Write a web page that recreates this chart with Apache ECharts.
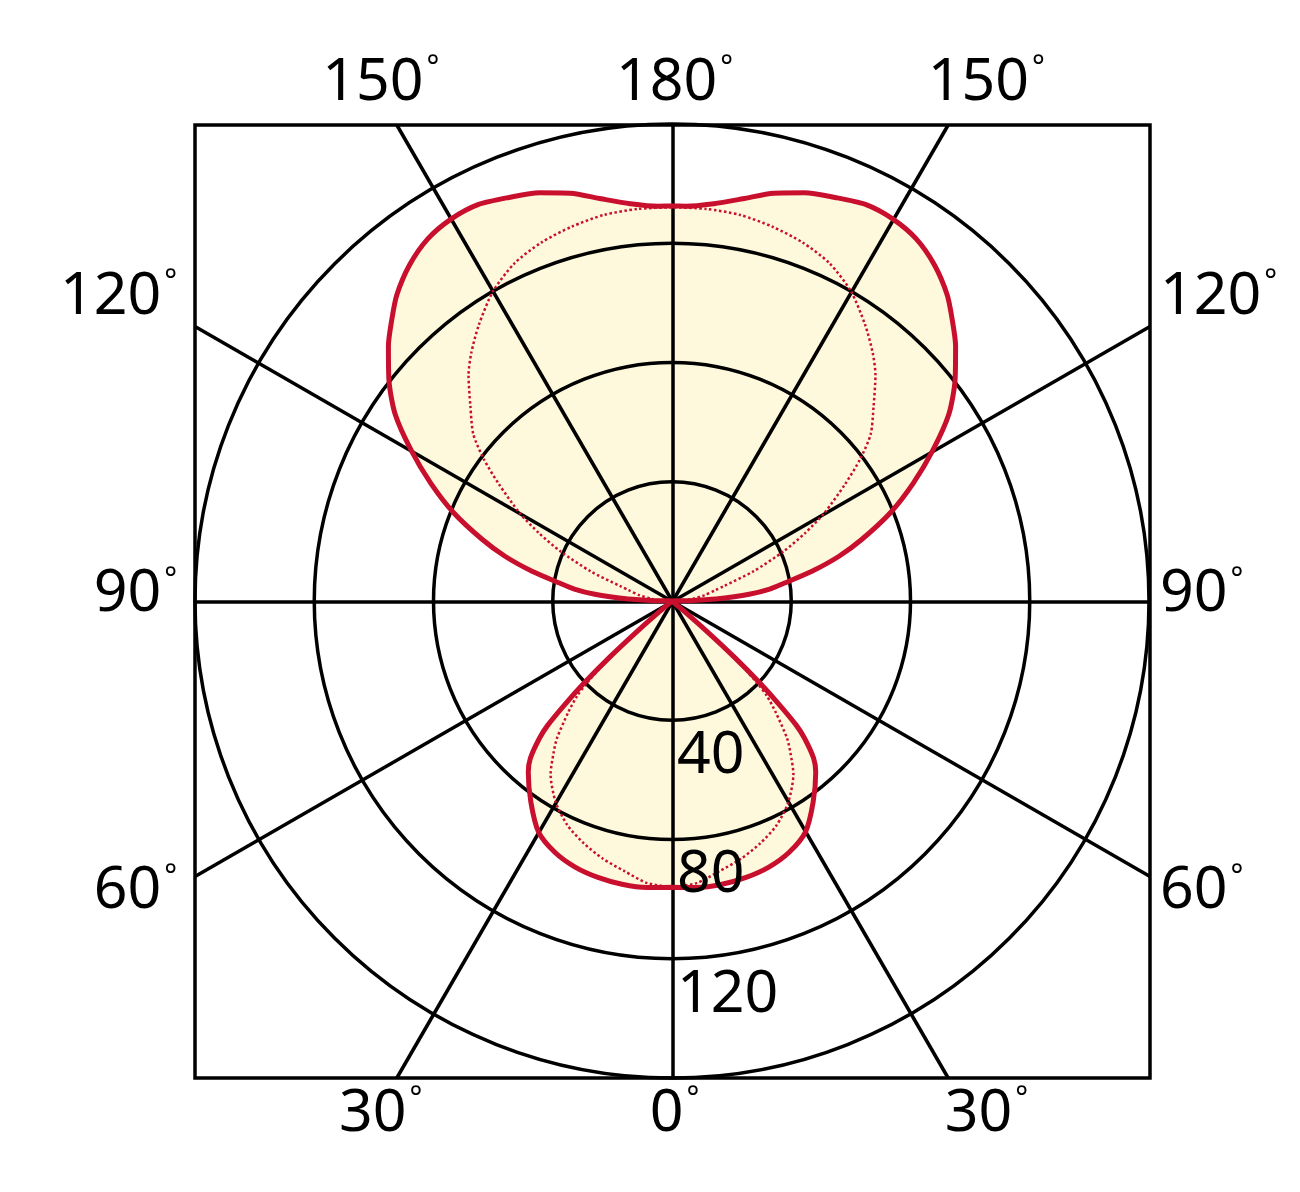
<!DOCTYPE html>
<html>
<head>
<meta charset="utf-8">
<script src="https://cdn.jsdelivr.net/npm/echarts@6/dist/echarts.min.js"></script>
<style>
html, body { margin: 0; padding: 0; background: #ffffff; }
#chart { width: 1300px; height: 1192px; }
</style>
</head>
<body>
<div id="chart"></div>
<script>
// ---- Data (one half, 0° = straight down, 180° = straight up; the distribution is symmetric) ----
const solidAngles = [0, 5, 10, 15, 20, 25, 30, 35, 40, 42, 44, 45, 46, 47, 48, 49, 50, 51, 60, 75, 90,
  91, 92, 93, 95, 97, 99, 102, 105, 108, 112, 116, 120, 124, 128, 132, 135, 138, 142, 146, 150,
  154, 158, 162, 166, 170, 174, 178, 180];
const solidValues = [96, 96.5, 96.5, 96, 95, 93, 89.5, 82.5, 75, 71, 64, 59, 50, 40, 28, 15, 5, 0, 0, 0, 0,
  6, 11, 17, 26, 33, 38, 48, 58, 67, 79, 90, 101, 112, 120.5, 128, 133, 138, 143, 146.5, 148,
  148, 146, 144, 141, 137, 134, 132.5, 132.5];

const dottedAngles = [0, 5, 10, 15, 20, 25, 30, 35, 38, 40, 43, 45, 46, 47, 48, 49, 50, 51, 60, 75, 90,
  93, 96, 100, 104, 106, 110, 114, 117, 120, 124, 127, 130, 134, 138, 141, 145, 150,
  155, 160, 165, 170, 175, 180];
const dottedValues = [96, 95, 92, 89.5, 86.5, 83, 78, 71, 64.5, 60, 51, 45, 40, 33, 24, 13, 4, 0, 0, 0, 0,
  3, 7, 11, 15, 18, 29, 41, 50, 59, 70, 79, 87, 94, 102, 107, 113, 120,
  125, 128, 130, 131.5, 132, 132];

const radiusTicks = [40, 80, 120];
const spokeAngles = [0, 30, 60, 90, 120, 150];
const angleLabels = [0, 30, 60, 90, 120, 150, 180];
const R_MAX = 160;

// ---- Helpers ----
const RED = '#c8102e';
const FILL = '#fef8dc';
const FONT = 'Noto Sans';
const INK = '#000000';

function mirror(angles, values) {
  const out = angles.map((a, i) => [values[i], a]);
  for (let i = angles.length - 2; i >= 1; i--) out.push([values[i], 360 - angles[i]]);
  out.push([values[0], 360]);
  return out;
}

// point where the ray at angle a (from straight down) meets the square frame, side = -1 left / +1 right
function frameHit(a, side) {
  const r = a * Math.PI / 180;
  const sx = side * Math.sin(r), sy = -Math.cos(r);
  const m = Math.max(Math.abs(sx), Math.abs(sy));
  return [R_MAX * sx / m, R_MAX * sy / m];
}

const solidData = mirror(solidAngles, solidValues);
const dottedData = mirror(dottedAngles, dottedValues);

const spokeData = spokeAngles.map(a => ({ coords: [frameHit(a, 1), frameHit(a + 180, 1)] }));

const labelData = [];
angleLabels.forEach(a => {
  const onAxis = (a === 0 || a === 180);
  const sides = onAxis ? [1] : [-1, 1];
  sides.forEach(side => {
    const r = a * Math.PI / 180, s = Math.sin(r), c = Math.cos(r);
    let label;
    if (Math.abs(c) > Math.abs(s) + 1e-9) {
      const isTop = c < 0;
      label = { align: 'center', verticalAlign: 'middle',
        offset: [onAxis ? 2 : side * Math.abs(s / c) * 47 + 11, isTop ? -42 : 36] };
    } else {
      label = { align: side < 0 ? 'right' : 'left', verticalAlign: 'middle',
        offset: [side < 0 ? -18 : 10, -7 + 44 * c] };
    }
    labelData.push({ value: frameHit(a, side), name: String(a), label: label });
  });
});

const chart = echarts.init(document.getElementById('chart'), null, { renderer: 'canvas' });

chart.setOption({
  animation: false,
  backgroundColor: '#ffffff',
  grid: { left: 195, top: 125, width: 955, height: 953, show: true,
    borderColor: INK, borderWidth: 3.5, backgroundColor: 'rgba(0,0,0,0)' },
  xAxis: { type: 'value', min: -R_MAX, max: R_MAX, show: false },
  yAxis: { type: 'value', min: -R_MAX, max: R_MAX, show: false },
  polar: { center: [672, 601], radius: 477 },
  angleAxis: { type: 'value', min: 0, max: 360, startAngle: -90, clockwise: true,
    axisLine: { show: false }, axisTick: { show: false }, axisLabel: { show: false },
    splitLine: { show: false } },
  radiusAxis: { type: 'value', min: 0, max: R_MAX, interval: 40, z: 3,
    axisLine: { show: false }, axisTick: { show: false }, axisLabel: { show: false },
    splitLine: { show: true, lineStyle: { color: INK, width: 3.5 } } },
  series: [
    { type: 'line', coordinateSystem: 'polar', data: solidData, smooth: 0.25,
      symbol: 'none', silent: true, z: 1,
      lineStyle: { width: 0, opacity: 0 }, areaStyle: { color: FILL, opacity: 1 } },
    { type: 'lines', coordinateSystem: 'cartesian2d', data: spokeData, silent: true, z: 3,
      lineStyle: { color: INK, width: 3.5, opacity: 1, curveness: 0 } },
    { type: 'line', coordinateSystem: 'polar', data: dottedData, smooth: 0.25,
      symbol: 'none', silent: true, z: 5,
      lineStyle: { color: RED, width: 2.5, type: [2.5, 2.5] } },
    { type: 'line', coordinateSystem: 'polar', data: solidData, smooth: 0.25,
      symbol: 'none', silent: true, z: 6,
      lineStyle: { color: RED, width: 5 } },
    { type: 'scatter', coordinateSystem: 'cartesian2d', data: labelData, symbolSize: 1,
      itemStyle: { color: 'rgba(0,0,0,0)' }, silent: true, z: 7,
      label: { show: true, position: 'inside', color: INK, opacity: 1,
        formatter: p => '{a|' + p.name + '}{d|°}',
        rich: {
          a: { fontFamily: FONT, fontSize: 59, color: INK },
          d: { fontFamily: FONT, fontSize: 30, color: INK, verticalAlign: 'top', padding: [0, 0, 0, 3] }
        } } },
    { type: 'scatter', coordinateSystem: 'polar', data: radiusTicks.map(v => [v, 0]), symbolSize: 1,
      itemStyle: { color: 'rgba(0,0,0,0)' }, silent: true, z: 7,
      label: { show: true, position: 'inside', align: 'left', verticalAlign: 'middle',
        offset: [5, 36], formatter: p => String(p.value[0]),
        fontFamily: FONT, fontSize: 59, color: INK, opacity: 1 } }
  ]
});
</script>
</body>
</html>
